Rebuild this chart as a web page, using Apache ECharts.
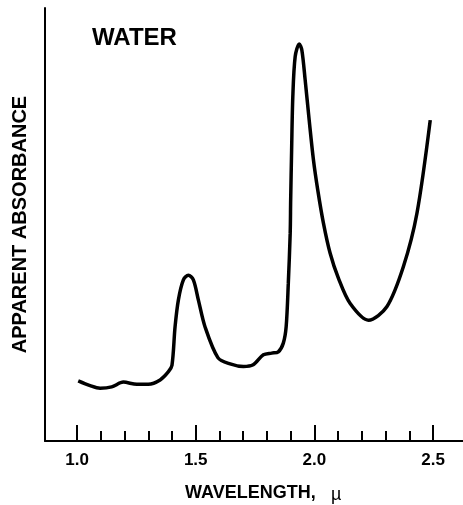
<!DOCTYPE html>
<html>
<head>
<meta charset="utf-8">
<script src="https://cdn.jsdelivr.net/npm/echarts@6/dist/echarts.min.js"></script>
<style>
html,body{margin:0;padding:0;background:#fff;}
#chart{width:463px;height:505px;}
</style>
</head>
<body>
<div id="chart"></div>
<script>
// Wavelength (microns) and apparent absorbance (arbitrary units, 0 = axis, 1 = top of axis)
const wavelengths = [1.005, 1.055, 1.097, 1.146, 1.195, 1.252, 1.300, 1.350, 1.385, 1.400, 1.413, 1.427, 1.448, 1.469, 1.490, 1.511, 1.539, 1.594, 1.645, 1.701, 1.742, 1.785, 1.820, 1.848, 1.869, 1.881, 1.890, 1.898, 1.900, 1.904, 1.909, 1.919, 1.936, 1.947, 1.961, 1.978, 1.996, 2.014, 2.038, 2.066, 2.101, 2.150, 2.228, 2.305, 2.375, 2.432, 2.488];
const absorbance  = [0.139, 0.128, 0.122, 0.125, 0.136, 0.131, 0.131, 0.141, 0.160, 0.175, 0.264, 0.326, 0.372, 0.383, 0.372, 0.326, 0.264, 0.192, 0.178, 0.172, 0.176, 0.199, 0.203, 0.206, 0.226, 0.264, 0.364, 0.480, 0.557, 0.672, 0.795, 0.888, 0.917, 0.903, 0.834, 0.741, 0.649, 0.580, 0.503, 0.434, 0.376, 0.318, 0.279, 0.310, 0.403, 0.526, 0.741];
const majorTicks = [1.0, 1.5, 2.0, 2.5];
const minorTicks = [1.1, 1.2, 1.3, 1.4, 1.6, 1.7, 1.8, 1.9, 2.1, 2.2, 2.3, 2.4];
const chartTitle = 'WATER';
const xTitle = 'WAVELENGTH,';
const xUnit = 'µ';
const yTitle = 'APPARENT ABSORBANCE';

const xMin = 0.865, xMax = 2.626;
const data = wavelengths.map((w, i) => [w, absorbance[i]]);

const chart = echarts.init(document.getElementById('chart'), null, {renderer: 'canvas'});
const fam = '"Liberation Sans", Arial, sans-serif';
chart.setOption({
  animation: false,
  backgroundColor: '#fff',
  grid: {left: 45, right: 0, top: 8, bottom: 64, containLabel: false, outerBoundsMode: 'none'},
  xAxis: [{
    type: 'value', min: xMin, max: xMax, position: 'bottom',
    axisLine: {show: true, lineStyle: {color: '#000', width: 2}},
    axisTick: {show: true, inside: true, length: 16, customValues: majorTicks, lineStyle: {color: '#000', width: 2}},
    axisLabel: {show: true, customValues: majorTicks, margin: 11, color: '#000', fontFamily: fam, fontWeight: 'bold', fontSize: 17,
      formatter: v => v.toFixed(1)},
    splitLine: {show: false}
  }, {
    type: 'value', min: xMin, max: xMax, position: 'bottom',
    axisLine: {show: false},
    axisTick: {show: true, inside: true, length: 10, customValues: minorTicks, lineStyle: {color: '#000', width: 2}},
    axisLabel: {show: false},
    splitLine: {show: false}
  }],
  yAxis: {
    type: 'value', min: 0, max: 1,
    axisLine: {show: true, lineStyle: {color: '#000', width: 2}},
    axisTick: {show: false}, axisLabel: {show: false}, splitLine: {show: false},
    name: yTitle, nameLocation: 'middle', nameRotate: 90, nameGap: 15,
    nameTextStyle: {color: '#000', fontFamily: fam, fontWeight: 'bold', fontSize: 20}
  },
  graphic: [
    {type: 'text', x: 92, y: 38, style: {text: chartTitle, fill: '#000', font: 'bold 24px ' + fam, textAlign: 'left', textVerticalAlign: 'middle'}},
    {type: 'text', x: 185, y: 493, style: {text: xTitle, fill: '#000', font: 'bold 18px ' + fam, textAlign: 'left', textVerticalAlign: 'middle'}},
    {type: 'text', x: 331, y: 495, style: {text: xUnit, fill: '#000', font: '18px ' + fam, textAlign: 'left', textVerticalAlign: 'middle'}}
  ],
  series: [{
    type: 'line', xAxisIndex: 0, data: data, smooth: 0.3, showSymbol: false,
    lineStyle: {color: '#000', width: 3.5}
  }]
});
</script>
</body>
</html>
